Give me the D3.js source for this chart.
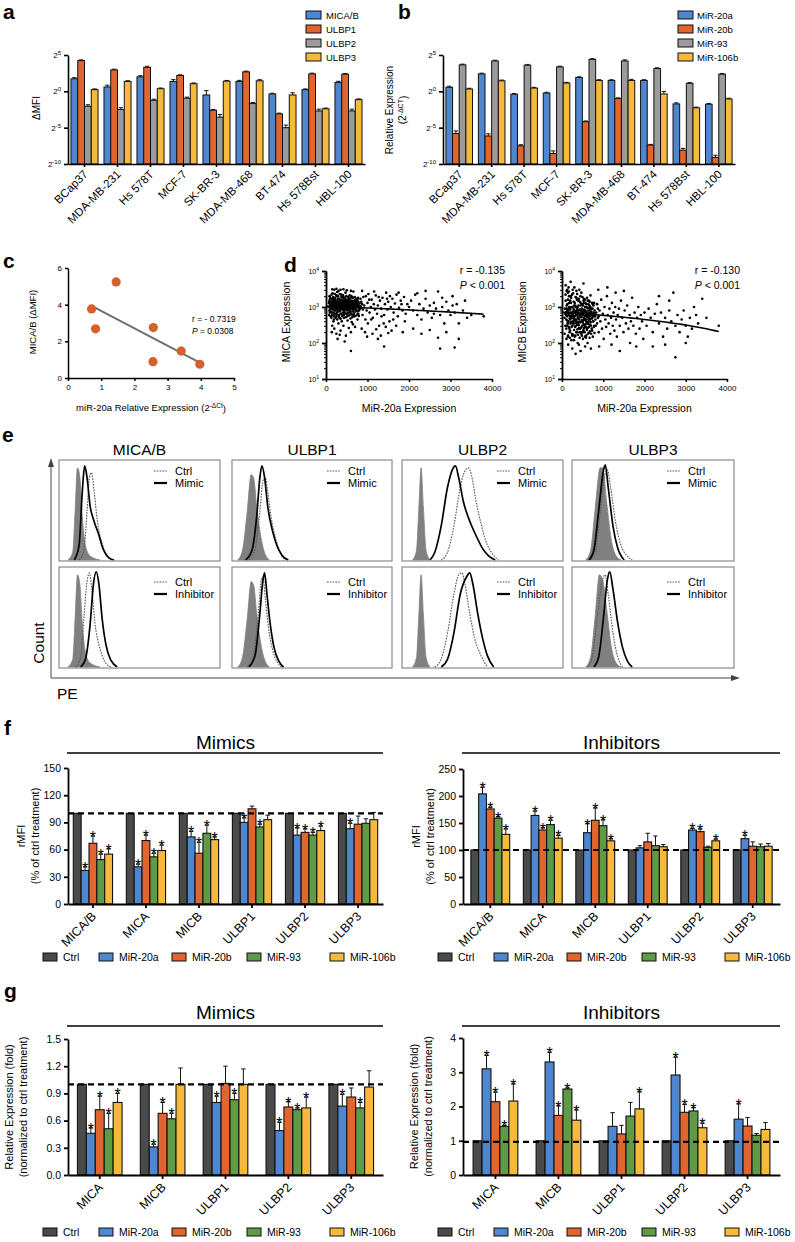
<!DOCTYPE html>
<html><head><meta charset="utf-8">
<script src="https://cdn.jsdelivr.net/npm/d3@7"></script>
<style>body{margin:0;background:#fff}</style>
</head><body>
<svg id="c" width="795" height="1242"></svg>
<script>
// ================= DATA =================
const cellLines=["BCap37","MDA-MB-231","Hs 578T","MCF-7","SK-BR-3","MDA-MB-468","BT-474","Hs 578Bst","HBL-100"];
const log2Ticks=[-10,-5,0,5];
// panel a : ΔMFI (log2)
const ligandNames=["MICA/B","ULBP1","ULBP2","ULBP3"];
const micabLog2=[1.73,0.6,2.0,1.36,-0.5,1.36,-0.36,0.23,1.23];
const ulbp1Log2=[4.23,2.95,3.3,2.18,-2.6,2.68,-3.1,2.4,2.36];
const ulbp2Log2=[-2.05,-2.5,-1.23,-0.95,-3.55,-1.68,-5.0,-2.7,-2.7];
const ulbp3Log2=[0.23,1.36,0.36,1.05,1.4,1.45,-0.5,-2.4,-1.14];
const micabErr=[0.15,0.25,0.15,0.25,0.6,0.15,0.1,0.1,0.15];
const ulbp1Err=[0.1,0.1,0.15,0.1,0.1,0.1,0.1,0.1,0.1];
const ulbp2Err=[0.2,0.25,0.15,0.15,0.35,0.15,0.35,0.25,0.25];
const ulbp3Err=[0.1,0.1,0.1,0.1,0.1,0.15,0.3,0.1,0.1];
// panel b : relative expression (log2)
const mirNames=["MiR-20a","MiR-20b","MiR-93","MiR-106b"];
const mir20aLog2=[0.55,2.4,-0.4,-0.23,1.9,1.5,1.5,-1.73,-1.77];
const mir20bLog2=[-5.8,-6.14,-7.5,-8.55,-4.18,-1.0,-7.4,-8.1,-9.1];
const mir93Log2=[3.64,4.18,3.6,3.36,4.4,4.18,3.14,1.1,2.36];
const mir106bLog2=[0.32,1.45,0.45,1.14,1.5,1.5,-0.36,-2.27,-1.05];
const mir20aErr=[0.15,0.1,0.1,0.1,0.1,0.1,0.1,0.15,0.1];
const mir20bErr=[0.35,0.3,0.15,0.35,0.1,0.1,0.1,0.25,0.3];
const mir93Err=[0.1,0.1,0.1,0.1,0.1,0.15,0.1,0.1,0.1];
const mir106bErr=[0.1,0.1,0.1,0.1,0.1,0.15,0.35,0.1,0.1];
// panel c
const corrMir20a=[0.71,0.83,1.45,2.57,3.41,2.56,3.97];
const corrMicab=[3.77,2.68,5.24,2.75,1.47,0.89,0.75];
const corrR="r = - 0.7319", corrP="0.0308";
// panel d
const micaScatter=[[120,900],[150,1200],[180,700],[200,1500],[210,1000],[230,800],[250,1300],[260,2000],[280,600],[300,1100],[310,900],[320,1700],[340,750],[350,1250],[360,1000],[380,1400],[390,650],[400,1150],[410,850],[420,1900],[440,1000],[450,700],[460,1300],[480,900],[490,1600],[500,1050],[510,550],[520,1200],[540,850],[550,1450],[560,1000],[580,700],[600,1300],[610,950],[630,1800],[640,600],[650,1100],[670,850],[690,1350],[700,1000],
[100,1400],[130,500],[140,1700],[160,2400],[170,1050],[190,450],[220,1800],[240,650],[270,2600],[290,1400],[330,500],[370,2200],[395,1800],[430,500],[470,2500],[530,1600],[570,2100],[590,480],[620,1500],[660,2700],[680,550],[720,1200],[740,800],[760,1600],[780,650],[800,1100],
[150,300],[200,250],[250,180],[300,350],[350,220],[420,300],[480,160],[550,260],[600,200],[650,330],[700,280],[180,400],[380,400],[520,420],[620,380],[760,450],[280,130],[450,110],[140,200],[330,170],
[200,3000],[300,2800],[420,3100],[500,2900],[250,3200],[150,3100],[350,3000],[600,2800],
[110,1100],[125,750],[135,1300],[145,950],[165,850],[175,1500],[185,1150],[195,650],[205,1250],[215,1650],[225,950],[235,1100],[245,550],[255,900],[265,1400],[275,1050],[285,750],[295,1700],[305,1300],[315,600],[325,1000],[335,1450],[345,900],[355,650],[365,1550],[375,1200],[385,850],[405,1350],[415,700],[425,1050],[435,1600],[445,800],[455,1200],[465,950],[475,1450],[485,650],[495,1250],[505,800],[515,1500],[525,1000],[535,700],[545,1250],[555,850],[565,1550],[575,950],[585,1200],[595,750],[605,1100],[615,650],[625,1250],[635,900],[645,1450],[655,750],[665,1000],[675,1250],[685,700],[695,1550],[710,900],[730,1400],[750,1000],[770,1200],[790,900],
[60,1000],[70,1300],[80,800],[90,1600],[95,1150],[105,900],[115,1250],[128,1050],[138,700],[148,1400],[158,1000],[168,1250],[178,900],[188,1700],[198,1100],[208,800],[218,1300],[228,1500],[238,900],[248,1200],[258,1000],[268,700],[278,1600],[288,1200],[298,950],[308,1050],[318,1400],[328,800],[338,1200],[348,1050],[358,1300],[368,900],[378,1100],[388,1500],[398,950],[408,1200],[418,1000],[428,800],[438,1300],[448,1100],[458,900],[468,1500],[478,1150],[488,1000],[498,1400],[508,950],[518,1100],[528,1300],[538,900],[548,1050],[558,1200],[568,800],[578,1400],[588,1000],[598,1150],[608,1300],[618,900],[628,1050],[638,1200],[648,850],[658,1400],[668,1100],[678,900],[688,1000],[698,1250],[708,1100],[718,800],[728,1500],[738,1050],[748,1250],[758,750],[768,1100],[778,1400],[788,1000],[798,800],[810,1300],[830,1050],[850,950],[870,1200],[890,850],
[75,600],[85,2000],[112,550],[132,2200],[152,600],[172,1900],[192,550],[212,2300],[232,500],[252,2100],[272,450],[292,2000],[312,520],[332,2300],[352,470],[372,1900],[392,560],[412,2100],[432,600],[452,1800],[472,520],[492,2000],[512,650],[532,1900],[552,580],[572,1750],[592,620],[612,2000],[632,520],[652,1800],[672,620],[692,1900],[712,560],[732,1700],[752,620],[772,1800],[792,560],[82,1450],[92,700],[102,1800],[142,1150],[162,1550],[182,1350],[202,1050],[222,1150],[242,1350],[262,1250],[282,850],[302,1250],[322,1150],[342,1350],[362,1150],[382,950],[402,1050],[422,1450],[442,950],[462,1150],[482,1350],[502,1150],[522,850],[542,1450],[562,1150],[582,850],[602,1000],[622,1400],[642,1050],[662,1250],[682,1150],[702,1400],[722,1000],
[820,900],[850,1400],[880,600],[900,1900],[920,1100],[950,450],[980,800],[1000,1300],[1020,2300],[1050,700],[1080,1000],[1100,1600],[1130,500],[1150,1200],[1180,850],[1200,2100],[1230,650],[1250,1100],[1280,300],[1300,1500],[1330,900],[1360,1800],[1400,600],[1420,1200],[1450,2500],[1480,850],[1500,1400],[1530,400],[1560,1000],[1600,1700],[1630,700],[1660,1250],[1700,2200],[1730,550],[1760,950],[1800,1500],[1840,800],[1880,1900],[1920,650],[1960,1200],[2000,1000],
[860,250],[940,200],[1010,350],[1120,180],[1210,240],[1320,160],[1440,280],[1580,220],[1690,300],[1850,200],[990,150],[1250,130],[1390,350],[1500,190],
[830,1700],[870,2800],[960,2000],[1040,1600],[1090,450],[1160,2700],[1270,1900],[1340,550],[1470,1700],[1540,2000],[1620,450],[1750,2500],[1820,1200],[1900,400],
[2050,1500],[2100,800],[2150,2200],[2200,600],[2250,1200],[2300,450],[2350,900],[2400,1700],[2450,700],[2500,1100],[2550,500],[2600,1300],[2650,900],[2700,2700],[2750,600],[2800,1000],[2850,350],[2900,1400],[2950,800],[3000,600],[3050,2000],[3100,700],[3150,1200],[3200,350],[3300,800],[3350,1500],[3400,500],[3500,600],[3800,550],[2100,250],[2300,180],[2500,230],[2700,140],[2900,200],[3200,130],[2200,2400],[2400,2800],[3050,1100],[2600,650],[2800,1800],
[2750,70],[3100,75],[600,60],[1400,80]];
const micbScatter=[[100,600],[120,300],[130,1200],[140,150],[150,800],[160,400],[170,2000],[180,250],[190,700],[200,1500],[210,350],[220,500],[230,1000],[240,180],[250,650],[260,3000],[270,400],[280,900],[290,120],[300,550],[310,1300],[320,280],[330,750],[340,450],[350,1800],[360,200],[370,600],[380,1000],[390,330],[400,700],[410,90],[420,450],[430,1400],[440,250],[450,800],[460,550],[470,2500],[480,160],[490,650],[500,380],[510,1100],[520,230],[530,500],[540,850],[550,300],[560,1600],[570,420],[580,140],[590,700],[600,350],[610,950],[620,260],[630,550],[640,1200],[650,190],[660,480],[670,800],[680,320],[690,2100],[700,600],[720,250],[740,900],[760,400],[780,1300],[800,550],
[90,4000],[110,2800],[160,3500],[210,5000],[300,3500],[350,2800],[420,3000],[520,4500],[250,70],[330,50],[450,60],[560,80],[380,100],[150,90],[620,100],[700,70],
[105,450],[115,900],[125,550],[135,350],[145,1600],[155,650],[165,280],[175,1000],[185,480],[195,220],[205,850],[215,1300],[225,380],[235,600],[245,2200],[255,300],[265,750],[275,170],[285,500],[295,1100],[305,420],[315,700],[325,160],[335,1000],[345,360],[355,600],[365,900],[375,240],[385,520],[395,1500],[405,310],[415,820],[425,200],[435,620],[445,380],[455,1100],[465,270],[475,720],[485,430],[495,1900],[505,200],[515,600],[525,330],[535,1300],[545,470],[555,150],[565,780],[575,280],[585,1000],[595,450],[605,230],[615,640],[625,1500],[635,340],[645,700],[655,420],[665,1100],[675,210],[685,560],[695,380],[710,750],[730,480],[750,1200],[770,280],[790,650],
[60,500],[70,900],[80,300],[88,1500],[96,700],[104,250],[112,1100],[122,420],[132,800],[142,2500],[152,350],[162,600],[172,1300],[182,200],[192,950],[202,450],[212,700],[222,1800],[232,280],[242,550],[252,1000],[262,350],[272,600],[282,1400],[292,230],[302,800],[312,450],[322,1100],[332,300],[342,650],[352,400],[362,1600],[372,320],[382,700],[392,480],[402,1100],[412,260],[422,600],[432,850],[442,380],[452,1300],[462,200],[472,520],[482,900],[492,300],[502,650],[512,420],[522,1500],[532,260],[542,700],[552,450],[562,1000],[572,330],[582,600],[592,1200],[602,250],[612,520],[622,800],[632,380],[642,950],[652,280],[662,650],[672,1400],[682,450],[692,700],[702,300],[712,900],[722,500],[732,220],[742,650],[752,400],[762,1100],[772,550],[782,300],[792,800],[810,450],[830,700],[850,350],[870,900],[890,550],
[65,180],[85,2200],[108,130],[128,3000],[148,160],[168,2700],[188,140],[208,2000],[228,120],[248,160],[268,2400],[288,350],[308,150],[328,1900],[348,200],[368,2300],[388,170],[408,1700],[428,140],[448,2000],[468,180],[488,1200],[508,130],[528,1700],[548,200],[568,1300],[588,160],[608,1800],[628,180],[648,1500],[668,140],[688,1000],[708,180],[728,1300],[748,150],[768,700],[788,190],[76,650],[118,750],[158,900],[198,560],[238,380],[278,480],[318,560],[358,780],[398,380],[438,540],[478,660],[518,780],[558,560],[598,380],[638,560],[678,880],[718,620],[758,560],
[820,300],[850,1200],[870,500],[890,200],[910,800],[930,400],[950,1600],[970,250],[990,650],[1010,130],[1030,1000],[1050,450],[1070,280],[1090,2000],[1110,600],[1130,350],[1150,900],[1170,180],[1190,500],[1210,1300],[1230,300],[1250,700],[1270,220],[1290,1000],[1310,450],[1330,150],[1350,600],[1380,900],[1400,300],[1430,1500],[1460,500],[1490,200],[1520,800],[1550,350],[1580,1100],[1610,250],[1640,600],[1670,400],[1700,1800],[1730,300],[1760,700],[1790,180],[1820,500],[1850,1000],[1880,250],[1910,600],[1940,400],[1970,130],[2000,700],
[880,3000],[1100,3500],[1300,2500],[1500,2800],[900,80],[1200,90],[1400,60],[1650,100],[1800,80],
[2050,300],[2100,900],[2150,500],[2200,200],[2250,650],[2300,1200],[2350,350],[2400,700],[2450,150],[2500,500],[2550,250],[2600,800],[2650,400],[2700,2500],[2750,300],[2800,600],[2850,200],[2900,450],[2950,800],[3000,300],[3050,150],[3100,500],[3150,250],[3200,1000],[3250,600],[3300,350],[3400,1700],[3500,500],[3800,300],[2200,80],[2500,90],[2750,40],[3000,100],[2350,2000],[2600,1500]];
const micaFit={intercept:1050,slope:-0.11}, micbFit={intercept:720,slope:-0.135};
const micaStats=["r = -0.135","0.001"], micbStats=["r = -0.130","0.001"];
const dXTicks=[0,1000,2000,3000,4000];
// panel e : histogram outlines [PE position %, relative count]
const histMarkers=["MICA/B","ULBP1","ULBP2","ULBP3"];
const isoMimic=[
 [[5,0],[8,0.08],[9.5,0.5],[11,0.95],[12.5,0.85],[14,0.45],[16,0.15],[19,0.04],[25,0]],
 [[3,0],[6,0.1],[9,0.5],[11.5,0.88],[13,0.85],[15,0.55],[17,0.3],[19.5,0.1],[23,0]],
 [[6,0],[8.5,0.1],[10,0.55],[11.4,0.95],[12.8,0.55],[14.5,0.1],[17,0]],
 [[8,0],[11,0.1],[14,0.55],[17,0.95],[18.5,0.95],[21,0.6],[24,0.2],[27,0.04],[30,0]]];
const ctrlMimic=[
 [[12,0],[15,0.1],[17,0.5],[18.5,0.85],[19.8,0.9],[21.5,0.7],[23.5,0.4],[26,0.2],[29,0.06],[33,0]],
 [[10,0],[14,0.12],[17,0.5],[19,0.82],[20.5,0.85],[22,0.7],[24,0.45],[27,0.22],[30,0.07],[33,0]],
 [[24,0],[28,0.08],[32,0.35],[36,0.75],[38,0.88],[41,0.95],[43,0.88],[46,0.6],[49,0.38],[52,0.2],[56,0.07],[60,0]],
 [[11,0],[14,0.1],[17,0.5],[20,0.88],[21.5,0.93],[23.5,0.75],[26.5,0.4],[30,0.15],[34,0.04],[37,0]]];
const mimicCurves=[
 [[9,0],[12,0.15],[14,0.7],[15.5,0.97],[17,0.85],[19,0.55],[21,0.42],[24,0.28],[27,0.12],[31,0.02],[34,0]],
 [[8,0],[12,0.1],[15,0.45],[17,0.85],[18.3,0.97],[20,0.85],[22,0.55],[25,0.3],[28,0.14],[31,0.05],[35,0]],
 [[17,0],[20,0.08],[24,0.35],[28,0.75],[31,0.93],[33,0.97],[35,0.85],[38,0.6],[42,0.4],[46,0.25],[50,0.12],[54,0.04],[58,0]],
 [[10,0],[13,0.1],[16,0.5],[19,0.92],[20.2,0.98],[22,0.75],[25,0.35],[28,0.12],[32,0]]];
const isoInhib=[
 [[5,0],[8,0.08],[9.5,0.5],[11,0.95],[12.5,0.85],[14,0.45],[16,0.15],[19,0.04],[25,0]],
 [[3,0],[6,0.1],[9,0.5],[11.5,0.88],[13,0.85],[15,0.55],[17,0.3],[19.5,0.1],[23,0]],
 [[6,0],[8.5,0.1],[10,0.55],[11.4,0.95],[12.8,0.55],[14.5,0.1],[17,0]],
 [[8,0],[11,0.1],[14,0.55],[16.5,0.95],[18.5,0.9],[21,0.6],[24,0.2],[27,0.04],[30,0]]];
const ctrlInhib=[
 [[10,0],[13,0.1],[15,0.5],[17,0.88],[18.5,0.97],[20,0.8],[22,0.45],[25,0.2],[28,0.06],[32,0]],
 [[9,0],[13,0.12],[16,0.55],[18,0.9],[19,0.93],[20.5,0.7],[22.5,0.4],[25,0.18],[28,0.05],[31,0]],
 [[20,0],[24,0.08],[28,0.35],[32,0.75],[35,0.95],[37,0.97],[39,0.85],[42,0.55],[45,0.3],[49,0.12],[53,0]],
 [[9,0],[12,0.1],[15,0.5],[18.5,0.9],[20,0.95],[22,0.75],[25,0.35],[28,0.1],[31,0]]];
const inhibCurves=[
 [[13,0],[16,0.08],[19,0.45],[21,0.85],[22.8,0.98],[24.5,0.85],[26.5,0.5],[29,0.22],[32,0.07],[36,0]],
 [[10,0],[14,0.12],[17,0.55],[19,0.9],[20,0.97],[21.5,0.75],[23.5,0.45],[26,0.2],[29,0.06],[32,0]],
 [[24,0],[28,0.08],[32,0.35],[36,0.75],[40,0.93],[42,0.97],[44,0.85],[47,0.55],[50,0.3],[53,0.12],[57,0]],
 [[13,0],[16,0.1],[19,0.5],[21.5,0.9],[23,0.98],[25,0.8],[28,0.45],[31,0.2],[34,0.06],[37,0]]];
// panel f : rMFI (% of ctrl treatment)
const treatNames=["Ctrl","MiR-20a","MiR-20b","MiR-93","MiR-106b"];
const fGenes=["MICA/B","MICA","MICB","ULBP1","ULBP2","ULBP3"];
const fMimicCtrl=[100,100,100,100,100,100];
const fMimic20a=[37,41,74,90,76,83];
const fMimic20b=[67,70,56,105,79,88];
const fMimic93=[49,52,78,85,76,89];
const fMimic106b=[55,59,71,93,81,93];
const fMimicErr20a=[4,3,6,5,8,6], fMimicErr20b=[8,6,12,3,4,9], fMimicErr93=[6,4,9,3,3,5], fMimicErr106b=[6,6,3,5,5,8];
const fMimicStar20a=[1,1,1,1,1,1], fMimicStar20b=[1,1,1,0,1,0], fMimicStar93=[1,1,1,1,1,0], fMimicStar106b=[1,1,1,0,1,0];
const fInhibCtrl=[100,100,100,100,100,100];
const fInhib20a=[204,164,132,104,137,121];
const fInhib20b=[176,137,155,115,134,107];
const fInhib93=[159,147,145,108,105,106];
const fInhib106b=[129,122,117,106,117,107];
const fInhibErr20a=[12,8,17,4,3,6], fInhibErr20b=[3,4,23,16,5,8], fInhibErr93=[3,8,11,18,2,5], fInhibErr106b=[10,5,4,4,3,5];
const fInhibStar20a=[1,1,1,0,1,1], fInhibStar20b=[1,1,1,0,1,0], fInhibStar93=[1,1,1,0,0,0], fInhibStar106b=[1,1,1,0,1,0];
const fMimicTicks=[0,30,60,90,120,150], fInhibTicks=[0,50,100,150,200,250];
// panel g : relative expression (fold)
const gGenes=["MICA","MICB","ULBP1","ULBP2","ULBP3"];
const gMimicCtrl=[1,1,1,1,1];
const gMimic20a=[0.46,0.31,0.80,0.49,0.76];
const gMimic20b=[0.72,0.68,1.01,0.75,0.86];
const gMimic93=[0.51,0.62,0.83,0.72,0.74];
const gMimic106b=[0.80,1.0,1.0,0.74,0.97];
const gMimicErr20a=[0.06,0.03,0.07,0.09,0.13], gMimicErr20b=[0.15,0.12,0.19,0.06,0.1], gMimicErr93=[0.17,0.06,0.07,0.02,0.06], gMimicErr106b=[0.1,0.18,0.17,0.12,0.18];
const gMimicStar20a=[1,1,1,1,1], gMimicStar20b=[1,1,0,1,0], gMimicStar93=[1,1,1,1,1], gMimicStar106b=[1,0,0,1,0];
const gInhibCtrl=[1,1,1,1,1];
const gInhib20a=[3.1,3.3,1.42,2.92,1.63];
const gInhib20b=[2.14,1.74,1.2,1.83,1.43];
const gInhib93=[1.42,2.51,1.72,1.87,1.16];
const gInhib106b=[2.16,1.6,1.93,1.38,1.33];
const gInhibErr20a=[0.39,0.28,0.4,0.52,0.45], gInhibErr20b=[0.28,0.28,0.25,0.23,0.25], gInhibErr93=[0.03,0.03,0.4,0.1,0.05], gInhibErr106b=[0.5,0.3,0.5,0.13,0.2];
const gInhibStar20a=[1,1,0,1,1], gInhibStar20b=[1,1,0,1,0], gInhibStar93=[1,1,0,1,0], gInhibStar106b=[1,1,1,1,0];
const gMimicTicks=[0,0.3,0.6,0.9,1.2,1.5], gInhibTicks=[0,1,2,3,4];

// ================= STYLE =================
const FONT='"Liberation Sans", Arial, Helvetica, sans-serif';
const C_BLUE="#4f86d0", C_ORANGE="#e0652e", C_GRAY="#9b9b9b", C_YELLOW="#f5b93c", C_GREEN="#5f9a47", C_CTRL="#4a4a4a";
const svg=d3.select("#c").attr("font-family",FONT);
svg.append("rect").attr("width",795).attr("height",1242).attr("fill","#fff");

function panelLabel(t,x,y){svg.append("text").attr("x",x).attr("y",y).attr("font-size",21).attr("font-weight","bold").text(t);}
function styleAxis(g,sw){g.attr("font-family",FONT);g.select(".domain").attr("stroke","#000").attr("stroke-width",sw);g.selectAll(".tick line").attr("stroke","#000").attr("stroke-width",sw);g.selectAll(".tick text").attr("fill","#000");}
function rotLabel(text,x,y,fs){svg.append("text").attr("transform",`translate(${x},${y}) rotate(-90)`).attr("text-anchor","middle").attr("font-size",fs).text(text);}

// grouped bar drawer
function groupedBars(cfg){
  const {cats,series,errs,stars,colors,x0,y,base,barStroke}=cfg;
  const x1=d3.scaleBand().domain(d3.range(series.length)).range([0,x0.bandwidth()]).padding(0);
  const g=svg.append("g");
  cats.forEach((c,i)=>{
    series.forEach((s,j)=>{
      const v=s[i], bx=x0(c)+x1(j), bw=x1.bandwidth();
      g.append("rect").attr("x",bx).attr("y",y(v)).attr("width",bw).attr("height",y(base)-y(v))
        .attr("fill",colors[j]).attr("stroke","#111").attr("stroke-width",barStroke||1);
      const e=errs&&errs[j]?errs[j][i]:0;
      if(e>0){
        g.append("line").attr("x1",bx+bw/2).attr("x2",bx+bw/2).attr("y1",y(v)).attr("y2",y(v+e)).attr("stroke","#111").attr("stroke-width",1);
        g.append("line").attr("x1",bx+bw/2-2.2).attr("x2",bx+bw/2+2.2).attr("y1",y(v+e)).attr("y2",y(v+e)).attr("stroke","#111").attr("stroke-width",1);
      }
      if(stars&&stars[j]&&stars[j][i]){
        g.append("text").attr("x",bx+bw/2).attr("y",y(v+e)+7).attr("text-anchor","middle").attr("font-size",16).text("*");
      }
    });
  });
}

// ================= PANEL A & B =================
function log2Panel(cfg){
  const {left,right,names,series,errs,colors,legX,legTextX}=cfg;
  const y=d3.scaleLinear().domain([-10,5]).range([164,55]);
  const x0=d3.scaleBand().domain(cellLines).range([left,right]).paddingInner(0.18).paddingOuter(0.09);
  groupedBars({cats:cellLines,series,errs,colors,x0,y,base:-10});
  const ya=svg.append("g").attr("transform",`translate(${left},0)`).call(d3.axisLeft(y).tickValues(log2Ticks).tickSize(4).tickSizeOuter(0));
  styleAxis(ya,1.6);
  ya.selectAll(".tick text").attr("font-size",8).each(function(d){const t=d3.select(this);t.text("2");t.append("tspan").attr("dy","-0.5em").attr("font-size",6).text(d);});
  const xa=svg.append("g").attr("transform",`translate(0,164)`).call(d3.axisBottom(x0).tickSize(3).tickSizeOuter(0).tickFormat(""));
  styleAxis(xa,1.6);
  cellLines.forEach(c=>{
    svg.append("text").attr("transform",`translate(${x0(c)+x0.bandwidth()/2+4},${175}) rotate(-45)`).attr("text-anchor","end").attr("font-size",11.5).text(c);
  });
  names.forEach((n,i)=>{
    svg.append("rect").attr("x",legX).attr("y",11+i*14).attr("width",15).attr("height",8).attr("fill",colors[i]).attr("stroke","#111").attr("stroke-width",1);
    svg.append("text").attr("x",legTextX).attr("y",18.5+i*14).attr("font-size",9.5).text(n);
  });
}
const abColors=[C_BLUE,C_ORANGE,C_GRAY,C_YELLOW];
log2Panel({left:68,right:365,names:ligandNames,series:[micabLog2,ulbp1Log2,ulbp2Log2,ulbp3Log2],errs:[micabErr,ulbp1Err,ulbp2Err,ulbp3Err],colors:abColors,legX:306,legTextX:326});
log2Panel({left:443,right:735,names:mirNames,series:[mir20aLog2,mir20bLog2,mir93Log2,mir106bLog2],errs:[mir20aErr,mir20bErr,mir93Err,mir106bErr],colors:abColors,legX:678,legTextX:697});
panelLabel("a",3,19); panelLabel("b",398,19);
rotLabel("ΔMFI",40,108,10);
svg.append("text").attr("transform","translate(393,110) rotate(-90)").attr("text-anchor","middle").attr("font-size",10).text("Relative Expression");
(function(){const t=svg.append("text").attr("transform","translate(406,110) rotate(-90)").attr("text-anchor","middle").attr("font-size",10);
 t.append("tspan").text("(2");t.append("tspan").attr("dy","-0.45em").attr("font-size",7).text("-ΔCT");t.append("tspan").attr("dy","0.45em").text(")");})();

// ================= PANEL C =================
(function(){
  const x=d3.scaleLinear().domain([0,5]).range([68,234]);
  const y=d3.scaleLinear().domain([0,6]).range([378,268]);
  const xa=svg.append("g").attr("transform","translate(0,378)").call(d3.axisBottom(x).ticks(5).tickSize(3).tickSizeOuter(0).tickFormat(d3.format("d")));
  styleAxis(xa,1.5); xa.selectAll(".tick text").attr("font-size",8);
  const ya=svg.append("g").attr("transform","translate(68,0)").call(d3.axisLeft(y).tickValues([0,2,4,6]).tickSize(3).tickSizeOuter(0).tickFormat(d3.format("d")));
  styleAxis(ya,1.5); ya.selectAll(".tick text").attr("font-size",8);
  const mx=d3.mean(corrMir20a), my=d3.mean(corrMicab);
  const sxy=d3.sum(corrMir20a.map((v,i)=>(v-mx)*(corrMicab[i]-my))), sxx=d3.sum(corrMir20a.map(v=>(v-mx)*(v-mx)));
  const b=sxy/sxx, a=my-b*mx;
  const x1=d3.min(corrMir20a), x2=d3.max(corrMir20a);
  svg.append("line").attr("x1",x(x1)).attr("y1",y(a+b*x1)).attr("x2",x(x2)).attr("y2",y(a+b*x2)).attr("stroke","#6f6f6f").attr("stroke-width",2);
  svg.selectAll(".cpt").data(corrMir20a).enter().append("circle").attr("cx",d=>x(d)).attr("cy",(d,i)=>y(corrMicab[i])).attr("r",4.6).attr("fill","#d65f2e");
  svg.append("text").attr("x",192).attr("y",322).attr("font-size",8.5).text(corrR);
  const p=svg.append("text").attr("x",192).attr("y",334).attr("font-size",8.5);
  p.append("tspan").attr("font-style","italic").text("P");p.append("tspan").text(" = "+corrP);
  rotLabel("MICA/B (ΔMFI)",36,322,9.5);
  const xl=svg.append("text").attr("x",151).attr("y",411).attr("text-anchor","middle").attr("font-size",9.5);
  xl.append("tspan").text("miR-20a Relative Expression (2");xl.append("tspan").attr("dy","-0.45em").attr("font-size",6.5).text("-ΔCt");xl.append("tspan").attr("dy","0.45em").text(")");
  panelLabel("c",3,268);
})();

// ================= PANEL D =================
function scatterPanel(pts,fit,stats,left,right,ylab,ylabX){
  const x=d3.scaleLinear().domain([0,4000]).range([left,right]);
  const y=d3.scaleLog().domain([10,10000]).range([379,271]);
  const xa=svg.append("g").attr("transform","translate(0,379)").call(d3.axisBottom(x).tickValues(dXTicks).tickSize(3).tickSizeOuter(0).tickFormat(d3.format("d")));
  styleAxis(xa,1.5); xa.selectAll(".tick text").attr("font-size",8);
  const minor=[];[10,100,1000].forEach(dec=>{for(let k=2;k<10;k++)minor.push(dec*k);});
  const ym=svg.append("g").attr("transform",`translate(${left},0)`).call(d3.axisLeft(y).tickValues(minor).tickSize(2).tickFormat(""));
  styleAxis(ym,1);
  const ya=svg.append("g").attr("transform",`translate(${left},0)`).call(d3.axisLeft(y).tickValues([10,100,1000,10000]).tickSize(4).tickSizeOuter(0));
  styleAxis(ya,1.8);
  ya.selectAll(".tick text").attr("font-size",7).each(function(d){const t=d3.select(this);t.text("10");t.append("tspan").attr("dy","-0.5em").attr("font-size",5).text(Math.round(Math.log10(d)));});
  svg.append("g").selectAll("circle").data(pts).enter().append("circle").attr("cx",d=>x(d[0])).attr("cy",d=>y(d[1])).attr("r",1.3).attr("fill","#000");
  const line=d3.line().x(d=>x(d)).y(d=>y(fit.intercept+fit.slope*d)).curve(d3.curveMonotoneX);
  svg.append("path").attr("d",line(d3.range(0,3801,100))).attr("fill","none").attr("stroke","#000").attr("stroke-width",1.6);
  svg.append("text").attr("x",right+13).attr("y",274).attr("text-anchor","end").attr("font-size",10.5).text(stats[0]);
  const p=svg.append("text").attr("x",right+13).attr("y",289).attr("text-anchor","end").attr("font-size",10.5);
  p.append("tspan").attr("font-style","italic").text("P");p.append("tspan").text(" < "+stats[1]);
  rotLabel(ylab,ylabX,322,10.5);
  svg.append("text").attr("x",(left+right)/2).attr("y",412).attr("text-anchor","middle").attr("font-size",10.5).text("MiR-20a  Expression");
}
scatterPanel(micaScatter,micaFit,micaStats,326,492,"MICA Expression",290);
scatterPanel(micbScatter,micbFit,micbStats,562,727,"MICB Expression",526);
panelLabel("d",284,272);

// ================= PANEL E =================
(function(){
  const boxX=[59,232,402,572], boxW=[161,160,161,162], rowY=[460,567], boxH=101;
  panelLabel("e",2,442);
  histMarkers.forEach((m,i)=>{
    svg.append("text").attr("x",boxX[i]+boxW[i]/2).attr("y",455).attr("text-anchor","middle").attr("font-size",15.5).text(m);
  });
  const rows=[{iso:isoMimic,ctrl:ctrlMimic,trt:mimicCurves,name:"Mimic",ly:[11,23]},{iso:isoInhib,ctrl:ctrlInhib,trt:inhibCurves,name:"Inhibitor",ly:[15,27]}];
  rows.forEach((r,ri)=>{
    histMarkers.forEach((m,i)=>{
      const x=d3.scaleLinear().domain([0,100]).range([boxX[i]+1,boxX[i]+boxW[i]-1]);
      const y=d3.scaleLinear().domain([0,1]).range([rowY[ri]+boxH-1,rowY[ri]+3]);
      const area=d3.area().x(d=>x(d[0])).y0(y(0)).y1(d=>y(d[1])).curve(d3.curveMonotoneX);
      const line=d3.line().x(d=>x(d[0])).y(d=>y(d[1])).curve(d3.curveMonotoneX);
      svg.append("path").attr("d",area(r.iso[i])).attr("fill","#808080").attr("stroke","#808080").attr("stroke-width",0.8);
      svg.append("path").attr("d",line(r.ctrl[i])).attr("fill","none").attr("stroke","#555").attr("stroke-width",1.1).attr("stroke-dasharray","1.6,1.2");
      svg.append("path").attr("d",line(r.trt[i])).attr("fill","none").attr("stroke","#000").attr("stroke-width",1.7);
      svg.append("rect").attr("x",boxX[i]).attr("y",rowY[ri]).attr("width",boxW[i]).attr("height",boxH).attr("fill","none").attr("stroke","#8a8a8a").attr("stroke-width",1.2);
      const lx=boxX[i]+95, ly=rowY[ri];
      svg.append("line").attr("x1",lx).attr("x2",lx+13).attr("y1",ly+r.ly[0]).attr("y2",ly+r.ly[0]).attr("stroke","#555").attr("stroke-width",1.1).attr("stroke-dasharray","1.6,1.2");
      svg.append("line").attr("x1",lx).attr("x2",lx+13).attr("y1",ly+r.ly[1]).attr("y2",ly+r.ly[1]).attr("stroke","#000").attr("stroke-width",2.2);
      svg.append("text").attr("x",lx+21).attr("y",ly+r.ly[0]+4).attr("font-size",11).text("Ctrl");
      svg.append("text").attr("x",lx+21).attr("y",ly+r.ly[1]+4).attr("font-size",11).text(r.name);
    });
  });
  svg.append("line").attr("x1",51).attr("x2",51).attr("y1",678).attr("y2",464).attr("stroke","#444").attr("stroke-width",1);
  svg.append("path").attr("d","M51,458 L48,467 L54,467 Z").attr("fill","#444");
  svg.append("line").attr("x1",51).attr("x2",734).attr("y1",678).attr("y2",678).attr("stroke","#444").attr("stroke-width",1);
  svg.append("path").attr("d","M740,678 L731,675 L731,681 Z").attr("fill","#444");
  rotLabel("Count",44,643,15.5);
  svg.append("text").attr("x",57).attr("y",699).attr("font-size",15.5).text("PE");
})();

// ================= PANEL F & G =================
const treatColors=[C_CTRL,C_BLUE,C_ORANGE,C_GREEN,C_YELLOW];
const legendXs=[43,99,172,247,330];
function effectPanel(cfg){
  const {cats,series,errs,stars,left,right,pi,po,yDomain,yTop,yBot,ticks,tickFmt,title,titleY,ruleY,ylab1,ylab2,ylabX,legY,legOff,ref}=cfg;
  const y=d3.scaleLinear().domain(yDomain).range([yBot,yTop]);
  const x0=d3.scaleBand().domain(cats).range([left,right]).paddingInner(pi).paddingOuter(po);
  groupedBars({cats,series,errs,stars,colors:treatColors,x0,y,base:0,barStroke:1.1});
  svg.append("line").attr("x1",left).attr("x2",right).attr("y1",y(ref)).attr("y2",y(ref)).attr("stroke","#000").attr("stroke-width",2.2).attr("stroke-dasharray","6,4");
  const ya=svg.append("g").attr("transform",`translate(${left},0)`).call(d3.axisLeft(y).tickValues(ticks).tickSize(4).tickSizeOuter(0).tickFormat(tickFmt));
  styleAxis(ya,1.8); ya.selectAll(".tick text").attr("font-size",10.5);
  const xa=svg.append("g").attr("transform",`translate(0,${yBot})`).call(d3.axisBottom(x0).tickSize(4).tickSizeOuter(0).tickFormat(""));
  styleAxis(xa,1.8);
  cats.forEach(c=>{
    svg.append("text").attr("transform",`translate(${x0(c)+x0.bandwidth()/2+4},${yBot+13}) rotate(-45)`).attr("text-anchor","end").attr("font-size",12.5).text(c);
  });
  svg.append("text").attr("x",(left+right)/2).attr("y",titleY).attr("text-anchor","middle").attr("font-size",19).text(title);
  svg.append("line").attr("x1",left-1).attr("x2",right).attr("y1",ruleY).attr("y2",ruleY).attr("stroke","#000").attr("stroke-width",1.6);
  svg.append("text").attr("transform",`translate(${ylabX},${(yTop+yBot)/2}) rotate(-90)`).attr("text-anchor","middle").attr("font-size",11).text(ylab1);
  svg.append("text").attr("transform",`translate(${ylabX+14},${(yTop+yBot)/2}) rotate(-90)`).attr("text-anchor","middle").attr("font-size",11).text(ylab2);
  treatNames.forEach((n,i)=>{
    const lx=legendXs[i]+legOff;
    svg.append("rect").attr("x",lx).attr("y",legY-4).attr("width",14).attr("height",8).attr("fill",treatColors[i]).attr("stroke","#111").attr("stroke-width",1);
    svg.append("text").attr("x",lx+20).attr("y",legY+4).attr("font-size",10.5).text(n);
  });
}
const fmtInt=d3.format("d"), fmt1=d3.format(".1f");
effectPanel({cats:fGenes,series:[fMimicCtrl,fMimic20a,fMimic20b,fMimic93,fMimic106b],errs:[null,fMimicErr20a,fMimicErr20b,fMimicErr93,fMimicErr106b],stars:[null,fMimicStar20a,fMimicStar20b,fMimicStar93,fMimicStar106b],
  left:68,right:383,pi:0.26,po:0.1,yDomain:[0,150],yTop:768,yBot:904,ticks:fMimicTicks,tickFmt:fmtInt,title:"Mimics",titleY:749,ruleY:753,ylab1:"rMFI",ylab2:"(% of ctrl treatment)",ylabX:25,legY:957,legOff:0,ref:100});
effectPanel({cats:fGenes,series:[fInhibCtrl,fInhib20a,fInhib20b,fInhib93,fInhib106b],errs:[null,fInhibErr20a,fInhibErr20b,fInhibErr93,fInhibErr106b],stars:[null,fInhibStar20a,fInhibStar20b,fInhibStar93,fInhibStar106b],
  left:463,right:780,pi:0.26,po:0.15,yDomain:[0,250],yTop:769,yBot:904,ticks:fInhibTicks,tickFmt:fmtInt,title:"Inhibitors",titleY:749,ruleY:753,ylab1:"rMFI",ylab2:"(% of ctrl treatment)",ylabX:420,legY:957,legOff:395,ref:100});
effectPanel({cats:gGenes,series:[gMimicCtrl,gMimic20a,gMimic20b,gMimic93,gMimic106b],errs:[null,gMimicErr20a,gMimicErr20b,gMimicErr93,gMimicErr106b],stars:[null,gMimicStar20a,gMimicStar20b,gMimicStar93,gMimicStar106b],
  left:68,right:383,pi:0.29,po:0.15,yDomain:[0,1.5],yTop:1039,yBot:1175,ticks:gMimicTicks,tickFmt:fmt1,title:"Mimics",titleY:1019,ruleY:1026,ylab1:"Relative Expression (fold)",ylab2:"(normalized to ctrl treatment)",ylabX:13,legY:1232,legOff:0,ref:1});
effectPanel({cats:gGenes,series:[gInhibCtrl,gInhib20a,gInhib20b,gInhib93,gInhib106b],errs:[null,gInhibErr20a,gInhibErr20b,gInhibErr93,gInhibErr106b],stars:[null,gInhibStar20a,gInhibStar20b,gInhibStar93,gInhibStar106b],
  left:463,right:780,pi:0.29,po:0.16,yDomain:[0,4],yTop:1038,yBot:1175,ticks:gInhibTicks,tickFmt:fmtInt,title:"Inhibitors",titleY:1019,ruleY:1026,ylab1:"Relative Expression (fold)",ylab2:"(normalized to ctrl treatment)",ylabX:418,legY:1232,legOff:395,ref:0.97});
panelLabel("f",4,735); panelLabel("g",4,998);
</script>
</body></html>
